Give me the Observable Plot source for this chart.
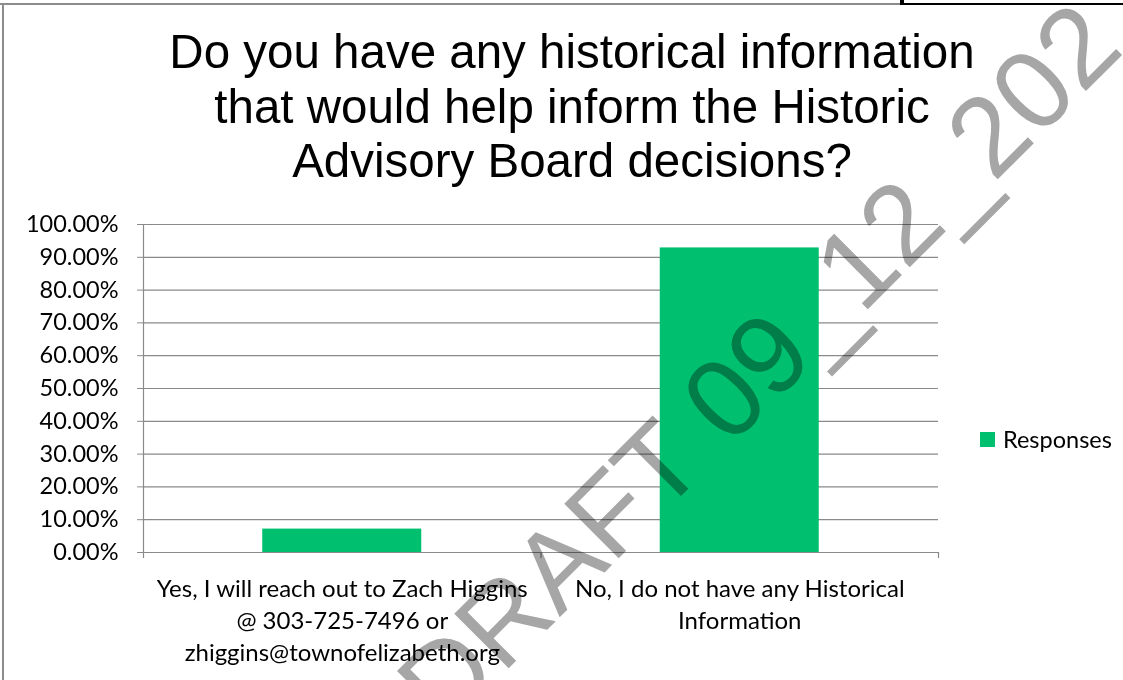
<!DOCTYPE html>
<html><head><meta charset="utf-8">
<script src="https://cdn.jsdelivr.net/npm/d3@7"></script>
<script src="https://cdn.jsdelivr.net/npm/@observablehq/plot@0.6"></script>
<style>
html,body{margin:0;padding:0;background:#fff;}
#wrap{position:relative;width:1123px;height:680px;overflow:hidden;background:#fff;}
#title{position:absolute;left:72px;width:1000px;top:25px;text-align:center;font-family:"Liberation Sans",Arial,sans-serif;font-size:47.5px;line-height:54.5px;color:#000;}
#chart{position:absolute;left:0;top:200px;}
#legend{position:absolute;left:980px;top:426px;font-family:Lato,sans-serif;font-size:23.5px;line-height:26px;display:flex;align-items:center;color:#000;}
#legend .sw{width:15px;height:15px;background:#00c06f;margin-right:8px;}
#wm{position:absolute;left:0;top:0;mix-blend-mode:multiply;pointer-events:none;}
.bl{position:absolute;background:#8c8c8c;}
.bk{position:absolute;background:#000;}
</style></head>
<body><div id="wrap">
<div id="title">Do you have any historical information<br>that would help inform the Historic<br>Advisory Board decisions?</div>
<div id="chart"></div>
<div id="legend"><div class="sw"></div><span id="legtext"></span></div>
<div class="bl" style="left:0;top:3px;width:1123px;height:1.5px"></div>
<div class="bl" style="left:2px;top:3px;width:1.5px;height:677px"></div>
<div class="bk" style="left:900px;top:0;width:4px;height:5px"></div>
<div class="bk" style="left:900px;top:3px;width:223px;height:2px"></div>
<svg id="wm" width="1123" height="680"><text x="445" y="732" transform="rotate(-45 445 732)" font-family="Liberation Sans, Arial, sans-serif" font-size="112" fill="#a6a6a6">DRAFT 09_12_202</text></svg>
</div>
<script>
const categories = ["Yes, I will reach out to Zach Higgins\n@ 303-725-7496 or\nzhiggins@townofelizabeth.org", "No, I do not have any Historical\nInformation"];
const responses = [0.0714, 0.9286];
const yTicks = [0, 0.1, 0.2, 0.3, 0.4, 0.5, 0.6, 0.7, 0.8, 0.9, 1.0];
const seriesName = "Responses";
const barColor = "#00c06f";

document.getElementById("legtext").textContent = seriesName;

const data = categories.map((c, i) => ({category: c, value: responses[i]}));
const W = 1123, H = 480, mL = 143, mR = 185, mT = 24, mB = 128;
const step = (W - mL - mR) / categories.length;
const tickLen = 6 / (H - mT - mB);
const grid = "#8a8a8a";

const plot = Plot.plot({
  width: W, height: H,
  marginLeft: mL, marginRight: mR, marginTop: mT, marginBottom: mB,
  style: {fontFamily: "Lato, sans-serif", fontSize: "24px", color: "#000", background: "transparent"},
  x: {domain: categories, paddingInner: 0.6, paddingOuter: 0.3, round: false, label: null},
  y: {domain: [0, 1], label: null},
  marks: [
    Plot.gridY(yTicks, {stroke: grid, strokeOpacity: 1, strokeWidth: 1.2}),
    Plot.barY(data, {x: "category", y: "value", fill: barColor}),
    Plot.frame({anchor: "left", stroke: grid, strokeWidth: 1.2}),
    Plot.ruleX(categories, {x: d => d, dx: -step / 2, y1: 0, y2: -tickLen, stroke: grid, strokeWidth: 1.2}),
    Plot.ruleX([categories[categories.length - 1]], {x: d => d, dx: step / 2, y1: 0, y2: -tickLen, stroke: grid, strokeWidth: 1.2}),
    Plot.axisY(yTicks, {tickFormat: d3.format(".2%"), tickSize: 6, tickPadding: 19, stroke: grid, fill: "#000", fontSize: 23.5, label: null}),
    Plot.axisX({tickSize: 0, tickPadding: 22, fill: "#000", fontSize: 24, lineHeight: 1.333, label: null, textOverflow: null})
  ]
});
document.getElementById("chart").appendChild(plot);
</script>
</body></html>
